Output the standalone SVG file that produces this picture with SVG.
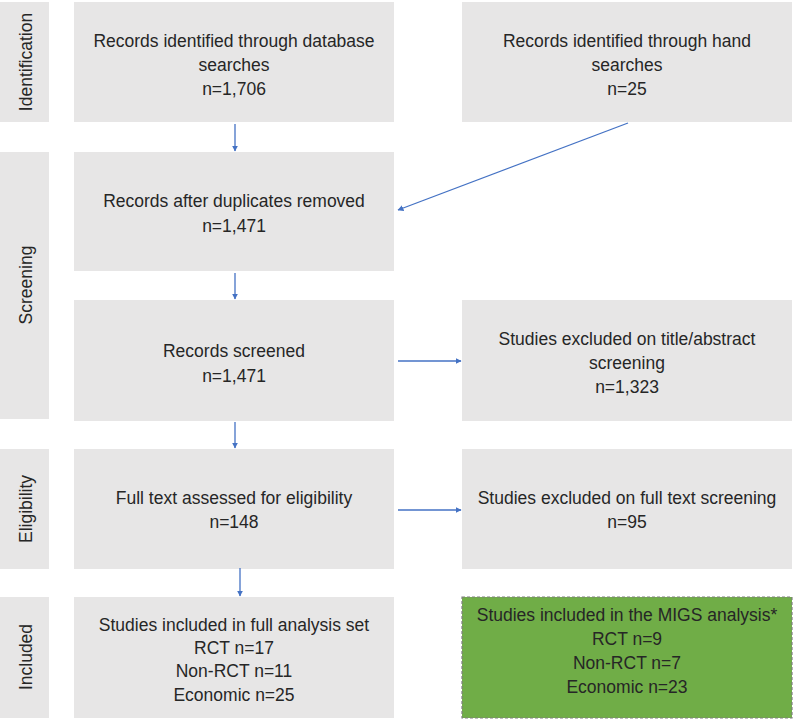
<svg xmlns="http://www.w3.org/2000/svg" width="797" height="720" viewBox="0 0 797 720">
<defs>
<style>
.box{fill:#e7e6e6;}
.side{fill:#e7e6e6;}
.migs{fill:#70ad47;stroke:#7f7f7f;stroke-width:1.2;stroke-dasharray:3,2;}
text{font-family:"Liberation Sans",Arial,sans-serif;font-size:17.5px;fill:#262626;text-anchor:middle;}
.conn{stroke:#4472c4;stroke-width:1.3;fill:none;marker-end:url(#ah);}
</style>
<marker id="ah" viewBox="0 0 10 10" refX="9" refY="5" markerWidth="6" markerHeight="6" orient="auto" markerUnits="userSpaceOnUse">
<path d="M0,0 L10,5 L0,10 z" fill="#4472c4"/>
</marker>
</defs>
<rect width="797" height="720" fill="#ffffff"/>
<g id="phase-identification"><rect class="side" x="0" y="2" width="49" height="120"/><text transform="translate(32,62) rotate(-90)">Identification</text></g>
<g id="phase-screening"><rect class="side" x="0" y="152" width="49" height="267"/><text transform="translate(32,285) rotate(-90)">Screening</text></g>
<g id="phase-eligibility"><rect class="side" x="0" y="449" width="49" height="120"/><text transform="translate(32,509) rotate(-90)">Eligibility</text></g>
<g id="phase-included"><rect class="side" x="0" y="597" width="49" height="121"/><text transform="translate(32,657) rotate(-90)">Included</text></g>

<g id="db"><rect class="box" x="74" y="2" width="320" height="120"/>
<text x="234" y="47">Records identified through database</text><text x="234" y="71">searches</text><text x="234" y="95">n=1,706</text></g>
<g id="hand"><rect class="box" x="462" y="2" width="330" height="120"/>
<text x="627" y="47">Records identified through hand</text><text x="627" y="71">searches</text><text x="627" y="95">n=25</text></g>
<g id="dup"><rect class="box" x="74" y="152" width="320" height="119"/>
<text x="234" y="207">Records after duplicates removed</text><text x="234" y="232">n=1,471</text></g>
<g id="screened"><rect class="box" x="74" y="300" width="320" height="121"/>
<text x="234" y="357">Records screened</text><text x="234" y="382">n=1,471</text></g>
<g id="excl1"><rect class="box" x="462" y="300" width="330" height="121"/>
<text x="627" y="345">Studies excluded on title/abstract</text><text x="627" y="369">screening</text><text x="627" y="393">n=1,323</text></g>
<g id="fulltext"><rect class="box" x="74" y="449" width="320" height="120"/>
<text x="234" y="504">Full text assessed for eligibility</text><text x="234" y="528">n=148</text></g>
<g id="excl2"><rect class="box" x="462" y="449" width="330" height="120"/>
<text x="627" y="504">Studies excluded on full text screening</text><text x="627" y="528">n=95</text></g>
<g id="included"><rect class="box" x="74" y="597" width="320" height="121"/>
<text x="234" y="631">Studies included in full analysis set</text><text x="234" y="654">RCT n=17</text><text x="234" y="677">Non-RCT n=11</text><text x="234" y="701">Economic n=25</text></g>
<g id="migs"><rect class="migs" x="462" y="597" width="330" height="121"/>
<text x="627" y="621">Studies included in the MIGS analysis*</text><text x="627" y="645">RCT n=9</text><text x="627" y="669">Non-RCT n=7</text><text x="627" y="693">Economic n=23</text></g>

<g id="connectors">
<line class="conn" x1="235" y1="124" x2="235" y2="151"/>
<line class="conn" x1="628" y1="123" x2="398" y2="210"/>
<line class="conn" x1="235" y1="273" x2="235" y2="299"/>
<line class="conn" x1="398" y1="361" x2="461" y2="361"/>
<line class="conn" x1="235" y1="422" x2="235" y2="448"/>
<line class="conn" x1="398" y1="510" x2="461" y2="510"/>
<line class="conn" x1="240" y1="568" x2="240" y2="596"/>
</g>
</svg>
